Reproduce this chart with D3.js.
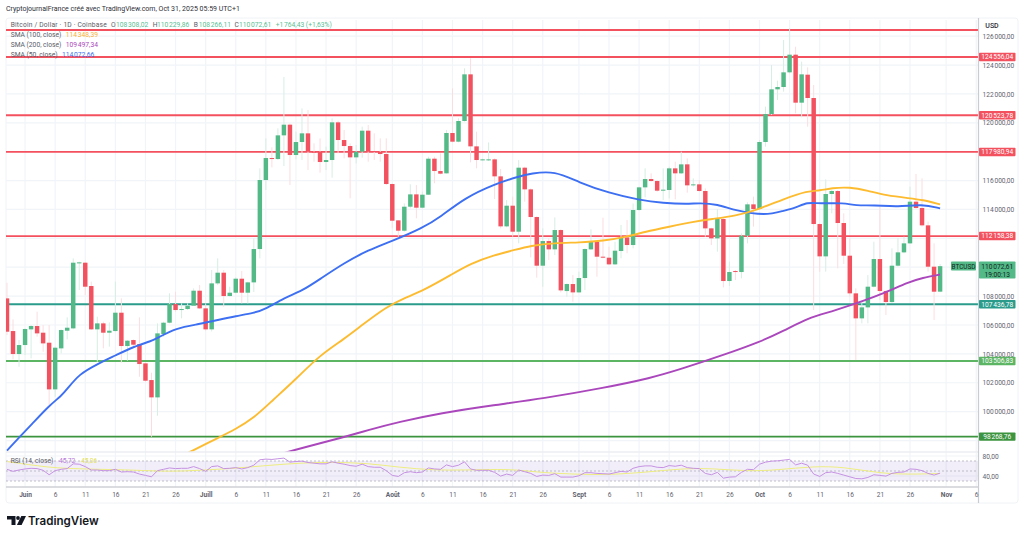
<!DOCTYPE html>
<html lang="fr">
<head>
<meta charset="utf-8">
<title>Bitcoin / Dollar - 1D</title>
<script src="https://cdn.jsdelivr.net/npm/d3@7/dist/d3.min.js"></script>
<style>
  html, body { margin: 0; padding: 0; background: #fff; }
  svg { display: block; font-family: Roboto, "Open Sans", sans-serif; }
</style>
</head>
<body>
<svg id="chart" width="1024" height="538"></svg>
<script>
// Daily sessions, first one on 29 May 2025, last one on 31 Oct 2025.
const firstSession = Date.UTC(2025, 4, 29);
const opens = [107843,105581,103989,104612,105697,105928,105466,104773,101542,104381,105604,105766,110267,110313,108698,105697,106112,105466,105581,106851,104543,104958,104681,103342,102188,100988,105374,106158,107451,107036,107105,107336,108374,
  107151,105697,108882,109621,108005,108236,109205,108236,108951,111259,116038,117561,117492,119131,119870,117769,118669,119269,117999,117999,117284,117423,120031,118808,118392,117607,117999,119454,118046,117977,117838,115761,
  113245,112529,114191,115045,114122,115022,117515,116661,116500,119293,118692,120124,123355,118369,117434,117446,117469,116292,112829,114260,112460,116892,115391,113476,110106,111813,111237,112575,108350,108836,108258,
  109252,111237,111767,110729,110660,110198,111122,112068,111537,113961,115530,116107,115969,115299,115346,116846,116500,117123,115669,115738,115277,112691,111999,113338,109044,109736,109667,112183,114353,114030,118670,120609,
  122317,122478,123494,124717,121393,123332,121717,112991,110752,115069,115277,113061,110798,108190,106459,107220,108652,110567,108352,107589,110106,111029,111652,114538,114099,112899,110037,108308.02];
const closes = [105535,103989,104612,105720,105928,105420,104727,101542,104427,105651,105812,110313,110336,108651,105697,106112,105466,105604,106851,104543,104912,104635,103296,102142,100988,105420,106158,107451,107036,107105,107336,108374,107151,
  105697,108882,109621,108005,108236,109205,108236,108951,111259,116038,117561,117492,119131,119870,117769,118669,119269,117999,117953,117284,117423,120031,118808,118392,117607,117999,119454,117999,117999,117838,115761,113221,
  112529,114191,115045,114122,115022,117515,116661,116476,119293,118692,120124,123355,118369,117423,117469,117469,116292,112829,114260,112460,116892,115391,113476,110106,111813,111237,112575,108397,108836,108258,109252,
  111260,111767,110729,110660,110198,111145,112068,111537,113961,115530,116107,115969,115299,115369,116846,116500,117123,115669,115738,115277,112691,111999,113338,109044,109667,109667,112183,114353,114030,118670,120609,122317,
  122478,123494,124717,121393,123355,121717,112991,110752,115069,115277,113061,110798,108190,106459,107220,108652,110567,108352,107589,110106,111029,111652,114538,114099,112899,110037,108305,110072.61];
const highs = [108928,106389,104958,105766,105997,106920,105997,105997,104497,105697,106528,110613,110383,110360,108998,106574,106228,106182,108998,107843,104958,105004,106528,103388,102696,106112,106228,108190,108305,107497,107497,108536,108767,
  107497,109805,110613,109805,108651,109297,109736,108997,111998,116845,118923,118300,119615,123171,119962,119385,121000,120885,118577,118923,118346,120308,120146,119500,118577,118461,119731,119846,119269,118923,118923,115807,
  113268,114422,115738,115692,115230,117654,117654,117884,119500,122386,120308,123771,124463,119385,117515,118646,117538,116800,114653,114884,117423,116961,115461,113522,112691,111998,113453,112622,108882,109459,109690,
  111306,112622,111814,113430,111421,111767,112922,113268,114422,115577,116846,116500,116038,116846,116961,117308,118000,117539,116153,116038,115461,112737,114007,113384,110383,109806,112345,114492,114884,118808,121116,124002,
  122917,125733,126564,125271,124233,123840,122617,113037,116084,115346,115346,113730,112000,108536,107613,109459,111768,114192,108421,111306,112000,112114,115577,116454,116153,113153,111652,110229.86];
const lows = [105304,103619,103111,103919,103689,105189,104150,100457,101034,104035,105004,105697,108421,108074,105651,103458,104381,104497,105535,103388,103527,104497,102419,102073,98264,99718,105189,106112,106920,106459,107036,107313,107105,
  105604,105558,108767,107266,107959,108189,107497,107497,108282,110613,115345,116915,117423,117008,115691,117469,117423,116730,117307,116545,116730,116199,117884,117538,114768,117192,117584,117307,117423,117307,115691,112690,
  112114,112460,114076,113383,114076,114999,115807,116430,116476,118646,118646,120078,117261,116846,117400,117353,114722,112691,112760,112114,111652,114538,110683,109274,108651,110498,110844,108258,107959,107613,108212,
  108421,111191,109344,110614,110152,110152,110614,110960,111306,113915,114838,115923,115230,114653,114769,114699,116454,115161,115577,115230,112114,111537,111075,108605,108698,109113,109229,111652,112807,114007,118346,120539,
  121578,122155,123425,120655,120378,119731,107036,109691,109691,113730,109921,110221,107959,103573,106113,106113,108605,107728,106690,107543,110036,110960,111606,114053,112807,109691,106343,108266.11];

// 14-period RSI per session, and its moving average read at a few sessions.
const rsiValues = [53.4,49.3,52,54.1,55.4,54.8,51.4,42.5,50.7,53.4,54.8,64.3,63.6,58.8,52,52,50.7,50.7,53.4,48,48.6,48,43.9,41.2,38.4,50.7,53.4,56.1,54.8,55.4,55.4,58.8,54.8,49.3,58.8,60.2,54.8,55.4,56.8,54.1,56.8,61.6,72.4,73.8,73.1,74.5,75.8,67.7,69,69.7,67,65.6,64.3,64.3,68.4,65.6,63.6,60.9,59.5,63.6,58.8,57.5,57.5,50.7,41.2,39.1,46.6,48.6,46.6,48,56.1,54.1,53.4,62.2,58.8,61.6,68.4,54.1,51.4,51.4,51.4,47.3,39.8,43.9,41.2,
  52,48.6,45.2,39.1,41.8,41.2,44.6,37.8,37.8,37.8,40.5,46.6,46.6,45.2,44.6,43.9,46.6,49.3,48,55.4,58.8,60.2,60.2,57.5,56.8,60.9,59.5,61.6,56.8,55.4,54.8,45.2,42.5,47.3,35.7,37.8,38.4,47.3,53.4,52.7,63.6,67.7,69.7,70.4,71.8,73.1,62.2,65.6,61.6,43.9,39.1,46.6,48,45.2,41.8,38.4,35,34.4,37.1,42.5,41.2,39.8,45.2,47.3,48,54.1,53.4,50.7,45.2,41.8,45.72];
const rsiMaSessions = [0,7,11,15,21,27,32,38,43,49,54,60,65,71,76,82,85,89,95,100,106,112,117,123,128,134,139,145,150,155];
const rsiMaValues = [69,56.8,54.8,53.4,52,48.6,51.4,55.4,60.9,66.3,67.7,65.6,57.5,51.4,52,53.4,52,46.6,43.2,42.5,47.3,54.8,55.4,49.3,52,59.5,58.2,45.2,43.2,45.06];

// Simple moving averages, read at selected sessions.
const sma50Sessions = [0,2,4,7,9,10,12,15,18,21,24,25,28,32,35,38,41,43,46,49,52,56,60,64,69,72,76,81,85,87,91,95,100,105,109,113,115,118,121,126,129,131,133,135,139,141,144,148,152,155];
const sma50Values = [97306,98206,99072,100422,101080,101564,102604,103296,103885,104495,104889,105096,105789,106066,106343,106620,106828,107105,107867,108352,109182,110290,111190,111814,112714,113476,114792,115761,116280,116488,116682,115865,115138,114653,114445,114376,114445,114376,113912,113566,113912,114120,114514,114396,114466,114258,114306,114168,114376,114072.66];
const sma100Sessions = [30,35,38,41,44,48,52,56,59,63,66,69,74,77,81,84,87,91,95,99,103,106,110,114,117,121,125,129,133,135,137,140,143,146,150,152,155];
const sma100Values = [97133,98171,98795,99557,100734,102257,103919,105027,106000,107244,107867,108352,109529,110255,110844,111156,111502,111675,111710,111814,112112,112457,112804,113150,113337,113545,114030,114722,115297,115297,115484,115553,115297,114965,114771,114673,114348.39];
const sma200Sessions = [46,49,56,60,65,72,81,89,99,107,112,119,125,129,133,137,141,145,150,152,155];
const sma200Values = [97133,97486,98240,98725,99279,99903,100457,100907,101634,102326,102950,103919,104819,105581,106481,106931,107485,108074,109009,109252,109497.34];

// Horizontal levels, with the price shown in the axis tag (the top one carries no tag).
const levelPrices = [126426,124556.04,120523.78,117980.94,112158.38,107436.78,103506.83,98268.76];
const levelColors = ["#f4515f","#f4515f","#f4515f","#f4515f","#f4515f","#2b9c8c","#5cb562","#3c943f"];
const levelTagged = [false,true,true,true,true,true,true,true];

const priceTicks = [126000,124000,122000,120000,118000,116000,114000,108000,106000,104000,102000,100000];
const rsiTicks = [80,40];
const rsiBands = [70,50,30];
const monthStarts = [[5,"Juin"],[6,"Juill"],[7,"Août"],[8,"Sept"],[9,"Oct"],[10,"Nov"]];
const tickDays = [1,6,11,16,21,26];

const lastClose = 110072.61;
const upColor = "#53b987", downColor = "#f2525f";
const upWick = "#d6eee4", downWick = "#fbdde0";
const gridColor = "#f1f4f8", textColor = "#5f626d";

const frLocale = d3.formatLocale({decimal: ",", thousands: "\u202f", grouping: [3], currency: ["", ""]});
const fmtPrice = frLocale.format(",.2f");
const fmtPlain = frLocale.format(".2f");

const sessionDate = i => new Date(firstSession + i * 86400000);

const left = 6, axisX = 978.5, right = 1018, paneTop = 20, paneBottom = 452, rsiBottom = 487, frameBottom = 503;

const x = d3.scaleUtc().domain([sessionDate(0), sessionDate(155)]).range([7, 940.1]);
const y = d3.scaleLinear().domain([98268.76, 124556.04]).range([436.65, 57]);
const yRsi = d3.scaleLinear().domain([30, 70]).range([481, 461]);
const bodyWidth = (x(sessionDate(1)) - x(sessionDate(0))) * 0.74;

const svg = d3.select("#chart");
const defs = svg.append("defs");
defs.append("clipPath").attr("id", "mainClip").append("rect")
  .attr("x", left).attr("y", paneTop).attr("width", axisX - left).attr("height", paneBottom - paneTop);
defs.append("clipPath").attr("id", "rsiClip").append("rect")
  .attr("x", left).attr("y", paneBottom).attr("width", axisX - left).attr("height", rsiBottom - paneBottom);

// Outer frame
svg.append("rect").attr("x", left).attr("y", 18).attr("width", right - left).attr("height", frameBottom - 18)
  .attr("rx", 3).attr("fill", "none").attr("stroke", "#f0f2f6");

// Time ticks: a month name on the 1st, then every five days
const timeTicks = [];
monthStarts.forEach(([m]) => tickDays.forEach(d => {
  const t = new Date(Date.UTC(2025, m, d));
  if (x(t) < axisX) timeTicks.push(t);
}));
const monthName = new Map(monthStarts);

// Grid
const grid = svg.append("g");
grid.selectAll("line.v").data(timeTicks).join("line").attr("class", "v")
  .attr("x1", d => x(d)).attr("x2", d => x(d)).attr("y1", paneTop).attr("y2", rsiBottom)
  .attr("stroke", gridColor).attr("stroke-width", 1.2);
grid.selectAll("line.h").data(d3.range(98000, 127000, 2000)).join("line").attr("class", "h")
  .attr("x1", left).attr("x2", axisX).attr("y1", d => y(d)).attr("y2", d => y(d))
  .attr("stroke", gridColor).attr("stroke-width", 1.2).attr("clip-path", "url(#mainClip)");
grid.selectAll("line.r").data(rsiTicks).join("line").attr("class", "r")
  .attr("x1", left).attr("x2", axisX).attr("y1", d => yRsi(d)).attr("y2", d => yRsi(d))
  .attr("stroke", gridColor).attr("stroke-width", 1.2);

// Levels
const main = svg.append("g").attr("clip-path", "url(#mainClip)");
main.selectAll("line.level").data(levelPrices).join("line").attr("class", "level")
  .attr("x1", left).attr("x2", axisX).attr("y1", d => y(d)).attr("y2", d => y(d))
  .attr("stroke", (d, i) => levelColors[i]).attr("stroke-width", 1.8);

// Candles
const sessions = d3.range(opens.length);
main.selectAll("line.wick").data(sessions).join("line").attr("class", "wick")
  .attr("x1", i => x(sessionDate(i))).attr("x2", i => x(sessionDate(i)))
  .attr("y1", i => y(highs[i])).attr("y2", i => y(lows[i]))
  .attr("stroke", i => closes[i] >= opens[i] ? upWick : downWick).attr("stroke-width", 1);
main.selectAll("rect.body").data(sessions).join("rect").attr("class", "body")
  .attr("x", i => x(sessionDate(i)) - bodyWidth / 2).attr("width", bodyWidth)
  .attr("y", i => y(Math.max(opens[i], closes[i])))
  .attr("height", i => Math.max(1, Math.abs(y(opens[i]) - y(closes[i]))))
  .attr("fill", i => closes[i] >= opens[i] ? upColor : downColor);

// Moving averages
const smaLine = d3.line().x(d => x(sessionDate(d[0]))).y(d => y(d[1])).curve(d3.curveBasis);
[[sma200Sessions, sma200Values, "#ab47bc"], [sma50Sessions, sma50Values, "#3d6ff2"], [sma100Sessions, sma100Values, "#fdbb2f"]]
  .forEach(([sess, vals, color]) => {
    main.append("path").attr("d", smaLine(d3.zip(sess, vals)))
      .attr("fill", "none").attr("stroke", color).attr("stroke-width", 1.9);
  });

// RSI pane
const rsi = svg.append("g").attr("clip-path", "url(#rsiClip)");
rsi.append("rect").attr("x", left).attr("width", axisX - left)
  .attr("y", yRsi(70)).attr("height", yRsi(30) - yRsi(70)).attr("fill", "#7e57c2").attr("opacity", 0.1);
rsi.selectAll("line.band").data(rsiBands).join("line").attr("class", "band")
  .attr("x1", left).attr("x2", axisX).attr("y1", d => yRsi(d)).attr("y2", d => yRsi(d))
  .attr("stroke", "#a6a8b1").attr("stroke-width", 0.7).attr("stroke-dasharray", "2 2");
const rsiLine = d3.line().x(d => x(sessionDate(d[0]))).y(d => yRsi(d[1]));
rsi.append("path").attr("d", rsiLine.curve(d3.curveBasis)(d3.zip(rsiMaSessions, rsiMaValues)))
  .attr("fill", "none").attr("stroke", "#eded80").attr("stroke-width", 1);
rsi.append("path").attr("d", rsiLine.curve(d3.curveLinear)(rsiValues.map((v, i) => [i, v])))
  .attr("fill", "none").attr("stroke", "#c592e2").attr("stroke-width", 1);

// Pane separators and axis lines
svg.append("line").attr("x1", left).attr("x2", axisX).attr("y1", paneBottom).attr("y2", paneBottom)
  .attr("stroke", "#eceef2").attr("stroke-width", 1.5);

// Right axis
const axisRight = svg.append("g").attr("transform", `translate(${axisX},0)`)
  .call(d3.axisRight(y).tickValues(priceTicks).tickSize(0).tickPadding(4).tickFormat(fmtPrice));
axisRight.select(".domain").remove();
const axisRsi = svg.append("g").attr("transform", `translate(${axisX},0)`)
  .call(d3.axisRight(yRsi).tickValues(rsiTicks).tickSize(0).tickPadding(4).tickFormat(fmtPlain));
axisRsi.select(".domain").remove();
svg.selectAll(".tick text").attr("font-family", "Roboto").attr("font-size", 6.6).attr("fill", textColor);
svg.append("line").attr("x1", axisX).attr("x2", axisX).attr("y1", 18).attr("y2", frameBottom)
  .attr("stroke", "#c9ccd3").attr("stroke-width", 1.2);

// Time axis
const axisTime = svg.append("g").attr("transform", `translate(0,${rsiBottom})`)
  .call(d3.axisBottom(x).tickValues(timeTicks).tickSize(0).tickPadding(5)
    .tickFormat(d => d.getUTCDate() === 1 ? monthName.get(d.getUTCMonth()) : String(d.getUTCDate())));
axisTime.select(".domain").remove();
axisTime.selectAll(".tick text").attr("font-family", "Roboto").attr("font-size", 6.6).attr("fill", textColor)
  .attr("font-weight", d => d.getUTCDate() === 1 ? 700 : 400);
svg.append("line").attr("x1", left).attr("x2", axisX).attr("y1", rsiBottom).attr("y2", rsiBottom)
  .attr("stroke", "#cfd1d6").attr("stroke-width", 1.3);

// Price tags on the axis
const tagW = 36.5, tagH = 8.4;
const tags = svg.append("g");
levelPrices.forEach((p, i) => {
  if (!levelTagged[i]) return;
  const g = tags.append("g").attr("transform", `translate(${axisX + 0.5},${y(p)})`);
  g.append("rect").attr("y", -tagH / 2).attr("width", tagW).attr("height", tagH).attr("rx", 0.8).attr("fill", levelColors[i]);
  g.append("text").attr("x", tagW / 2).attr("y", 2.4).attr("text-anchor", "middle")
    .attr("font-size", 6.6).attr("fill", "#fff").text(fmtPrice(p));
});

// Last price tag with the bar countdown, and the symbol tag
const lastY = y(lastClose);
const lastTag = svg.append("g").attr("transform", `translate(${axisX + 0.5},${lastY})`);
lastTag.append("rect").attr("y", -4.6).attr("width", tagW).attr("height", 17).attr("rx", 0.8).attr("fill", upColor);
lastTag.append("text").attr("x", tagW / 2).attr("y", 2.4).attr("text-anchor", "middle")
  .attr("font-size", 6.6).attr("fill", "#10261d").text(fmtPrice(lastClose));
lastTag.append("text").attr("x", tagW / 2).attr("y", 10.4).attr("text-anchor", "middle")
  .attr("font-size", 6.6).attr("fill", "#10261d").text("19:00:13");
const symTag = svg.append("g").attr("transform", `translate(951,${lastY})`);
symTag.append("rect").attr("y", -4.6).attr("width", 25).attr("height", 9).attr("rx", 0.8).attr("fill", upColor);
symTag.append("text").attr("x", 12.5).attr("y", 2.4).attr("text-anchor", "middle")
  .attr("font-size", 6.4).attr("fill", "#10261d").text("BTCUSD");

svg.append("text").attr("x", 992).attr("y", 27.5).attr("text-anchor", "middle")
  .attr("font-size", 7).attr("font-weight", 500).attr("fill", "#2e3038").text("USD");

// Header and legends
svg.append("text").attr("x", 6).attr("y", 11).attr("font-size", 7).attr("fill", "#2e3038")
  .text("CryptojournalFrance créé avec TradingView.com, Oct 31, 2025 05:59 UTC+1");

const legendText = (tx, ty, s, fill) => svg.append("text").attr("x", tx).attr("y", ty)
  .attr("font-size", 6.7).attr("fill", fill).text(s);
const legendGrey = "#5a5d68", legendGreen = "#5bc095";
legendText(10.7, 27, "Bitcoin / Dollar · 1D · Coinbase", legendGrey)
  .attr("textLength", 96).attr("lengthAdjust", "spacing");
[[111, "O", 116, opens], [152.7, "H", 157, highs], [193.7, "B", 198.7, lows], [234.5, "C", 239, closes]]
  .forEach(([lx, letter, vx, series]) => {
    legendText(lx, 27, letter, legendGrey);
    legendText(vx, 27, fmtPrice(series[series.length - 1]), legendGreen);
  });
legendText(275.7, 27, "+1\u202f764,43 (+1,63%)", legendGreen);
legendText(10.7, 37, "SMA (100, close)", legendGrey);
legendText(65.7, 37, fmtPrice(114348.39), "#fbb130");
legendText(10.7, 47, "SMA (200, close)", legendGrey);
legendText(65.7, 47, fmtPrice(109497.34), "#ab47bc");
legendText(10.7, 57, "SMA (50, close)", legendGrey);
legendText(62, 57, fmtPrice(114072.66), "#3d6ff2");
legendText(10.7, 463, "RSI (14, close)", legendGrey);
legendText(59, 463, "45,72", "#b678d8");
legendText(81, 463, "45,06", "#e3e25f");

// Brand mark and wordmark
const brand = svg.append("g").attr("fill", "#131722");
brand.append("path").attr("d", "M7 516H15.5V525H11.5V519.6H7Z");
brand.append("circle").attr("cx", 18).attr("cy", 518).attr("r", 1.9);
brand.append("path").attr("d", "M21.3 516H26L21.6 525H16.9Z");
brand.append("text").attr("x", 28).attr("y", 525.2).attr("font-family", "Inter, Roboto, sans-serif")
  .attr("font-size", 11.6).attr("font-weight", 600).text("TradingView");
</script>
</body>
</html>
